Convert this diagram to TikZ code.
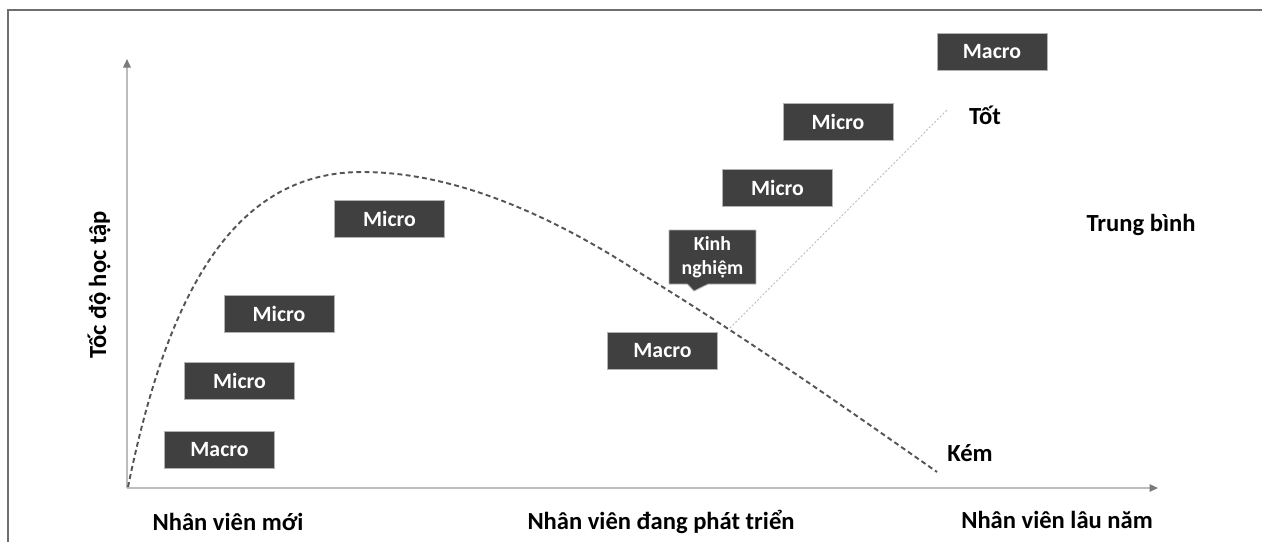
\documentclass[tikz,border=0pt]{standalone}
\usepackage{fontspec}
\setmainfont{Carlito}
\usetikzlibrary{arrows.meta,shapes.callouts}

\definecolor{boxgray}{HTML}{404040}
\definecolor{axisgray}{HTML}{BDBDBD}
\definecolor{tipgray}{HTML}{7A7A7A}
\definecolor{curvegray}{HTML}{555555}
\definecolor{framegray}{HTML}{6E6E6E}

\begin{document}
\begin{tikzpicture}[x=0.02cm, y=-0.02cm,
    stage/.style={fill=boxgray, draw=gray!60, line width=0.5pt, text=white,
      font=\bfseries\fontsize{12.4}{14}\selectfont,
      minimum width=2.2cm, minimum height=0.74cm, inner sep=0pt},
    axis/.style={draw=axisgray, line width=0.9pt,
      -{Triangle[length=0.17cm, width=0.15cm, color=tipgray]}},
    axistext/.style={font=\bfseries\fontsize{14}{16}\selectfont},
    trend/.style={draw=curvegray, line width=1.1pt, dash pattern=on 2.8pt off 1.9pt},
    better/.style={draw=gray!55, line width=0.5pt, dash pattern=on 1.1pt off 1.1pt}]

  \useasboundingbox (0,0) rectangle (1262,542);

  % frame (top and left edge only)
  \draw [framegray, line width=1.1pt] (8,542) -- (8,10) -- (1262,10);

  %                x,    y
  \coordinate (origin) at (127,  488);
  \coordinate (ytip)   at (127,   59);
  \coordinate (xtip)   at (1158, 488);
  \coordinate (peak)   at (362,  172);
  \coordinate (cross)  at (730,  328);
  \coordinate (good)   at (947,  110);

  \draw [axis] (origin) -- (ytip);
  \draw [axis] (origin) -- (xtip);

  % learning curve
  \draw [trend] (128,487) .. controls (170,280) and (240,172) .. (peak)
        .. controls (444,172) and (537,206) .. (640,273)
        .. controls (740,334) and (840,404) .. (937,472);
  \draw [better] (cross) -- (good);

  % stages along the curve
  \node [stage] (macroA) at (219.5, 450)   {Macro};
  \node [stage] (microA) at (239.5, 381)   {Micro};
  \node [stage] (microB) at (279,   313.5) {Micro};
  \node [stage] (microC) at (389.5, 219)   {Micro};
  \node [stage] (macroB) at (662.5, 351)   {Macro};
  \node [stage] (microD) at (777.5, 188)   {Micro};
  \node [stage] (microE) at (838,   122)   {Micro};
  \node [stage] (macroC) at (992,    52)   {Macro};

  \node [stage, rectangle callout, align=center,
         minimum width=1.74cm, minimum height=1.08cm,
         callout absolute pointer={(694,291)}, callout pointer width=0.42cm,
         font=\bfseries\fontsize{11.3}{13.6}\selectfont]
        (exp) at (712.5, 257) {Kinh\\nghiệm};

  % levels
  \node [axistext] (good-l) at (985,  115) {Tốt};
  \node [axistext] (mid-l)  at (1141, 225) {Trung bình};
  \node [axistext] (bad-l)  at (970,  453) {Kém};

  % axis texts
  \node [axistext, rotate=90] (speed) at (99, 285) {Tốc độ học tập};
  \node [axistext] (new)  at (228,  522) {Nhân viên mới};
  \node [axistext] (grow) at (661,  522) {Nhân viên đang phát triển};
  \node [axistext] (old)  at (1057, 520) {Nhân viên lâu năm};

\end{tikzpicture}
\end{document}
